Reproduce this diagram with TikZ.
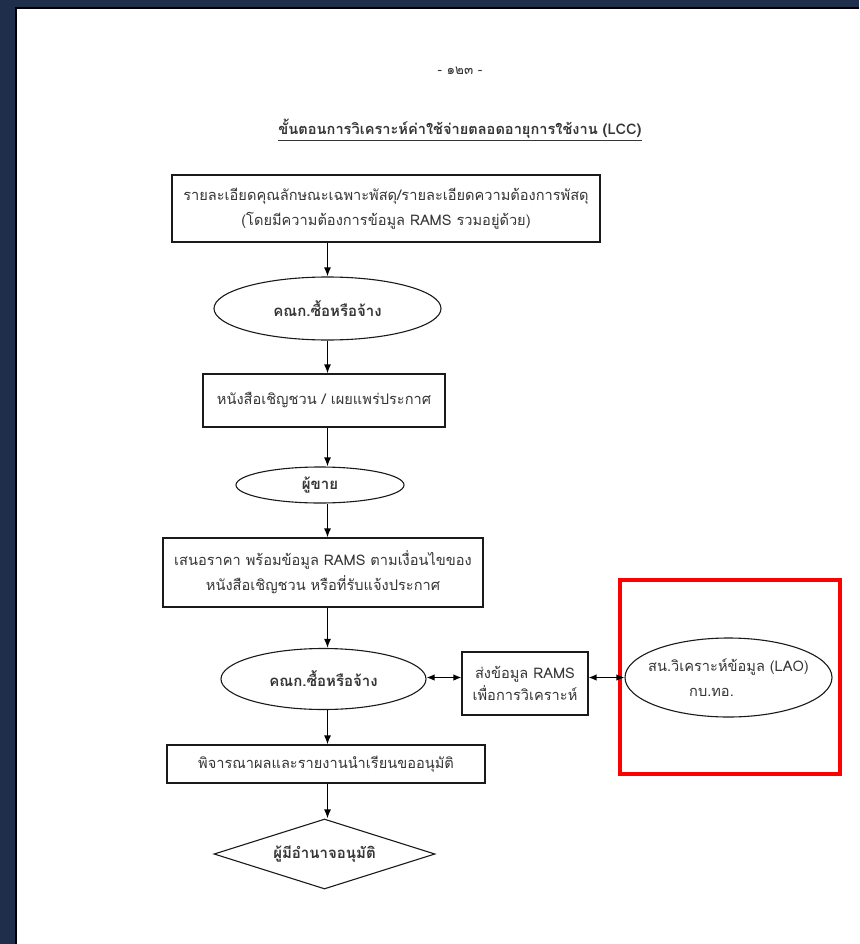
\documentclass[tikz,border=0pt]{standalone}
\usepackage{fontspec}
\setmainfont{Loma}[Script=Thai]
\usetikzlibrary{shapes.geometric,arrows.meta}
\definecolor{deskblue}{HTML}{1F2F4B}
\definecolor{ink}{HTML}{353535}
\definecolor{edge}{HTML}{1A1A1A}
\tikzset{
  txt/.style={text=ink,font=\fontsize{14.6}{25}\selectfont,align=center,inner sep=0pt},
  stepbox/.style={txt,draw=edge,line width=1.1pt,rectangle},
  oval/.style={txt,draw=edge,line width=1.1pt,ellipse,font=\fontsize{15}{25}\selectfont\bfseries},
  decide/.style={txt,draw=edge,line width=1.1pt,diamond,aspect=3.15,font=\fontsize{15}{25}\selectfont\bfseries},
  arr/.style={draw=black,line width=1.3pt,-{Latex[length=9pt,width=7pt]}},
  dbl/.style={draw=black,line width=1.3pt,{Latex[length=8pt,width=6.5pt]}-{Latex[length=8pt,width=6.5pt]}},
}
\begin{document}
\begin{tikzpicture}[x=1pt,y=-1pt]
\useasboundingbox (0,0) rectangle (859,944);
% desk and page sheet
\fill[deskblue] (0,0) rectangle (859,944);
\fill[black] (15,7) rectangle (859,944);
\fill[white] (17,9) rectangle (859,944);

% page header
\node[txt,font=\fontsize{13.5}{15}\selectfont] (pageno) at (460,71) {- ๑๒๓ -};
\node[txt,font=\fontsize{14.6}{17}\selectfont\bfseries] (title) at (460,130)
  {\underline{ขั้นตอนการวิเคราะห์ค่าใช้จ่ายตลอดอายุการใช้งาน (LCC)}};

% flow steps
\node[stepbox,minimum width=428pt,minimum height=67pt] (spec) at (386,208.5)
  {รายละเอียดคุณลักษณะเฉพาะพัสดุ/รายละเอียดความต้องการพัสดุ\\(โดยมีความต้องการข้อมูล RAMS รวมอยู่ด้วย)};
\node[oval,minimum width=227pt,minimum height=63pt] (board1) at (327.5,308.5) {คณก.ซื้อหรือจ้าง};
\node[stepbox,minimum width=242pt,minimum height=53pt] (invite) at (324,400.5)
  {หนังสือเชิญชวน / เผยแพร่ประกาศ};
\node[oval,minimum width=168pt,minimum height=36pt] (seller) at (320,485) {ผู้ขาย};
\node[stepbox,minimum width=320pt,minimum height=69pt] (offer) at (323,572.5)
  {เสนอราคา พร้อมข้อมูล RAMS ตามเงื่อนไขของ\\หนังสือเชิญชวน หรือที่รับแจ้งประกาศ};
\node[oval,minimum width=205pt,minimum height=61pt] (board2) at (323.5,679) {คณก.ซื้อหรือจ้าง};
\node[stepbox,minimum width=126pt,minimum height=63pt,font=\fontsize{14.6}{22}\selectfont] (send) at (525,683.5)
  {ส่งข้อมูล RAMS\\เพื่อการวิเคราะห์};
\node[txt,draw=edge,line width=1.1pt,ellipse,inner xsep=-16pt,minimum width=207pt,minimum height=79pt] (lao) at (728.5,677.5)
  {สน.วิเคราะห์ข้อมูล (LAO)\\\hspace*{-34pt}กบ.ทอ.};
\node[stepbox,minimum width=318pt,minimum height=38pt] (report) at (326,764)
  {พิจารณาผลและรายงานนำเรียนขออนุมัติ};
\node[decide,minimum width=221pt,minimum height=70pt] (approve) at (324.5,854) {ผู้มีอำนาจอนุมัติ};

% highlight frame
\node[draw=red,line width=4pt,minimum width=220pt,minimum height=194pt,inner sep=0pt] (mark) at (730,677) {};

% connectors
\draw[arr] (board1.north |- spec.south) -- (board1.north);
\draw[arr] (board1.south) -- (board1.south |- invite.north);
\draw[arr] (board1.south |- invite.south) -- (board1.south |- seller.north);
\draw[arr] (board1.south |- seller.south) -- (board1.south |- offer.north);
\draw[arr] (board1.south |- offer.south) -- (board1.south |- board2.north);
\draw[arr] (board1.south |- board2.south) -- (board1.south |- report.north);
\draw[arr] (board1.south |- report.south) -- (board1.south |- approve.north);
\draw[dbl] (board2.east |- lao.west) -- (send.west |- lao.west);
\draw[dbl] (send.east |- lao.west) -- (lao.west);
\end{tikzpicture}
\end{document}
